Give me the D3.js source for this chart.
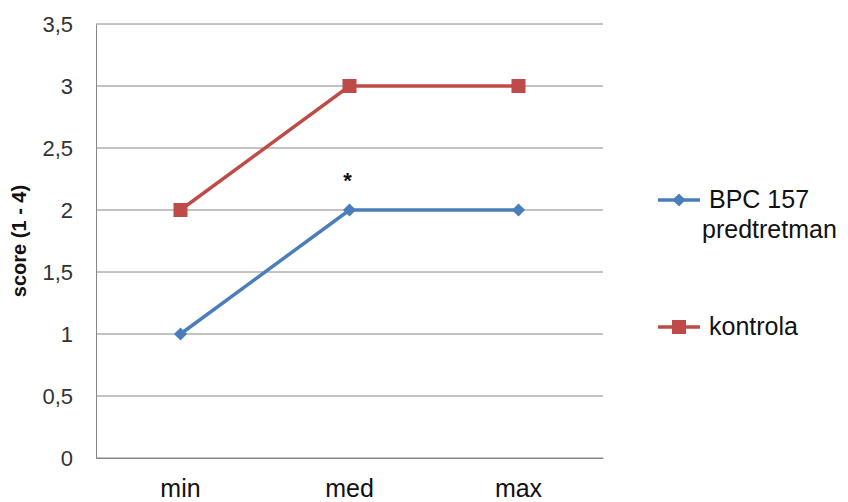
<!DOCTYPE html>
<html>
<head>
<meta charset="utf-8">
<script src="https://cdn.jsdelivr.net/npm/d3@7"></script>
<style>
  body { margin: 0; background: #fff; }
  text { font-family: "Liberation Sans", Arial, sans-serif; }
</style>
</head>
<body>
<script>
// chart data
var categories = ["min", "med", "max"];
var bpcValues = [1, 2, 2];
var kontrolaValues = [2, 3, 3];
var yTicks = [0, 0.5, 1, 1.5, 2, 2.5, 3, 3.5];
var seriesNames = ["BPC 157", "kontrola"];

var w = 848, h = 502;
var plotLeft = 96, plotRight = 603, plotTop = 24, plotBottom = 458;

var svg = d3.select("body").append("svg")
    .attr("width", w)
    .attr("height", h);

var x = d3.scaleBand().domain(categories).range([plotLeft, plotRight]);
var y = d3.scaleLinear().domain([0, 3.5]).range([plotBottom, plotTop]);

// gridlines
svg.selectAll("line.grid")
    .data(yTicks)
    .enter()
    .append("line")
    .attr("x1", plotLeft)
    .attr("x2", plotRight)
    .attr("y1", function (d) { return y(d); })
    .attr("y2", function (d) { return y(d); })
    .attr("stroke", "#868686")
    .attr("stroke-width", 1);

// y axis
var yAxis = svg.append("g")
    .attr("transform", "translate(" + plotLeft + ",0)")
    .call(d3.axisLeft(y).tickValues(yTicks).tickSize(0).tickPadding(23)
        .tickFormat(function (d) { return String(d).replace(".", ","); }));
yAxis.select(".domain").attr("stroke", "#868686");
yAxis.selectAll("text")
    .attr("font-size", "22px")
    .attr("fill", "#333")
    .attr("font-family", "Liberation Sans, Arial, sans-serif");

// x axis
var xAxis = svg.append("g")
    .attr("transform", "translate(0," + plotBottom + ")")
    .call(d3.axisBottom(x).tickSize(0).tickPadding(21));
xAxis.select(".domain").attr("stroke", "#868686");
xAxis.selectAll("text")
    .attr("font-size", "25px")
    .attr("fill", "#111")
    .attr("font-family", "Liberation Sans, Arial, sans-serif");

// y axis title
svg.append("text")
    .attr("transform", "translate(26," + ((plotTop + plotBottom) / 2) + ") rotate(-90)")
    .attr("text-anchor", "middle")
    .attr("font-size", "20px")
    .attr("font-weight", "bold")
    .attr("fill", "#111")
    .text("score (1 - 4)");

var line = d3.line()
    .x(function (d, i) { return x(categories[i]) + x.bandwidth() / 2; })
    .y(function (d) { return y(d); });

var blue = "#4a7ebb", red = "#be4b48";

// kontrola
svg.append("path")
    .datum(kontrolaValues)
    .attr("d", line)
    .attr("fill", "none")
    .attr("stroke", red)
    .attr("stroke-width", 3.5);
svg.selectAll("rect.kon")
    .data(kontrolaValues)
    .enter()
    .append("rect")
    .attr("x", function (d, i) { return x(categories[i]) + x.bandwidth() / 2 - 7; })
    .attr("y", function (d) { return y(d) - 7; })
    .attr("width", 14)
    .attr("height", 14)
    .attr("fill", red);

// BPC
svg.append("path")
    .datum(bpcValues)
    .attr("d", line)
    .attr("fill", "none")
    .attr("stroke", blue)
    .attr("stroke-width", 3.5);
var diamond = d3.symbol().type(d3.symbolDiamond2).size(110);
svg.selectAll("path.bpc")
    .data(bpcValues)
    .enter()
    .append("path")
    .attr("d", diamond)
    .attr("transform", function (d, i) {
        return "translate(" + (x(categories[i]) + x.bandwidth() / 2) + "," + y(d) + ")";
    })
    .attr("fill", blue);

// asterisk above med
svg.append("text")
    .attr("x", x("med") + x.bandwidth() / 2 - 2)
    .attr("y", y(2.5) + 40)
    .attr("text-anchor", "middle")
    .attr("font-size", "22px")
    .attr("font-weight", "bold")
    .attr("fill", "#111")
    .text("*");

// legend
var lg = svg.append("g");
lg.append("line").attr("x1", 658).attr("x2", 700).attr("y1", 200).attr("y2", 200)
    .attr("stroke", blue).attr("stroke-width", 3.5);
lg.append("path").attr("d", diamond)
    .attr("transform", "translate(679,200)").attr("fill", blue);
lg.append("text").attr("x", 709).attr("y", 208).attr("font-size", "25px").attr("fill", "#111")
    .text(seriesNames[0]);
lg.append("text").attr("x", 702).attr("y", 238).attr("font-size", "25px").attr("fill", "#111")
    .text("predtretman");

lg.append("line").attr("x1", 658).attr("x2", 700).attr("y1", 327).attr("y2", 327)
    .attr("stroke", red).attr("stroke-width", 3.5);
lg.append("rect").attr("x", 672).attr("y", 320).attr("width", 14).attr("height", 14)
    .attr("fill", red);
lg.append("text").attr("x", 709).attr("y", 335).attr("font-size", "25px").attr("fill", "#111")
    .text(seriesNames[1]);
</script>
</body>
</html>
